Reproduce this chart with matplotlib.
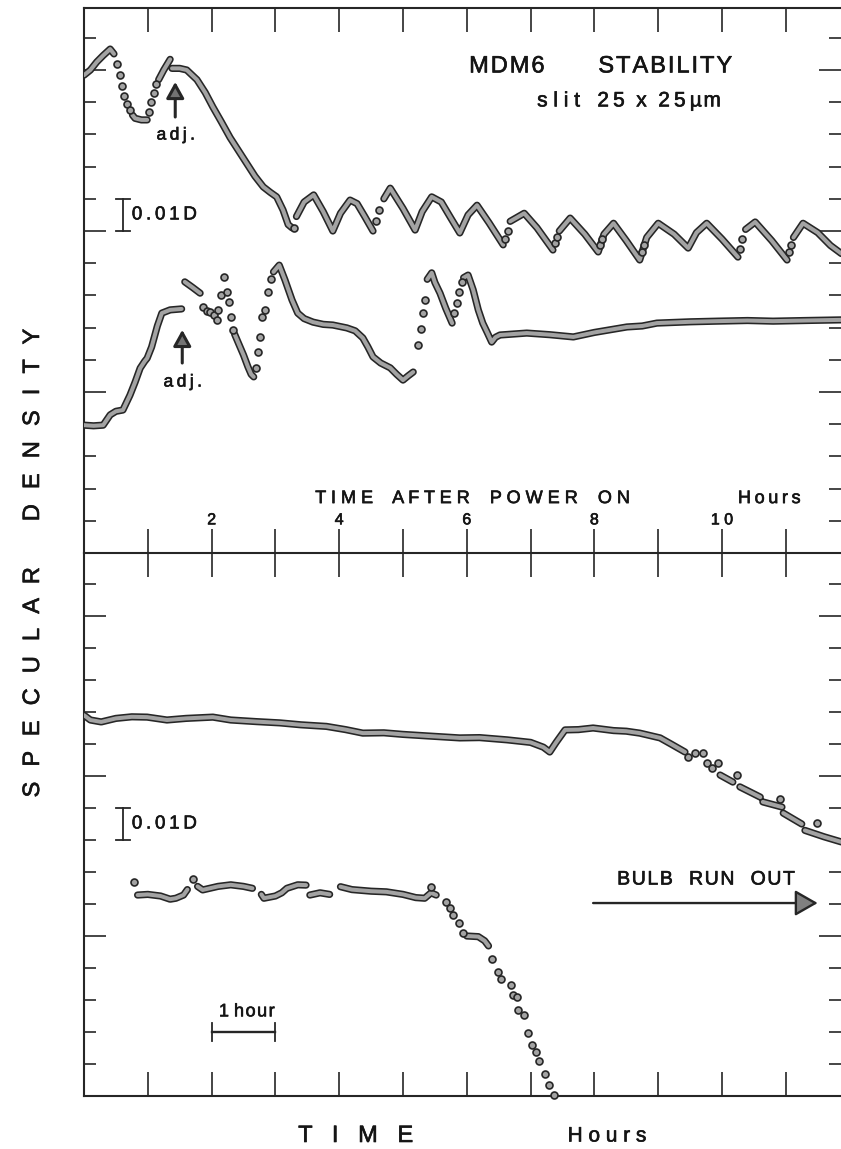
import numpy as np
import matplotlib
matplotlib.use("Agg")
import matplotlib.pyplot as plt
import matplotlib.patheffects as pe
from matplotlib.ticker import FixedLocator

nan = np.nan
FONT = ['Liberation Sans', 'DejaVu Sans']
plt.rcParams['font.family'] = FONT

# time axis (hours) and density axis (steps of 0.01 D, counted from panel bottom)
hour_ticks = list(range(1, 12))
top_labels = [2, 4, 6, 8, 10]
minor_steps = list(range(1, 17))
major_steps = [5, 10, 15]

# ---- upper panel, first run (dense trace, NaN = break)
top_hi_x = [0.0, 0.1, 0.2, 0.3, 0.41, 0.47, nan,
            0.76, 0.8, 0.9, 0.99, nan,
            1.17, 1.25, 1.35, nan,
            1.38, 1.5, 1.61, 1.77, 1.9, 2.02, 2.15, 2.29, 2.42, 2.55, 2.68, 2.81, 2.92, 3.02, 3.12, 3.2, 3.26, nan,
            3.33, 3.45, 3.6, 3.75, 3.9, 4.02, 4.17, 4.28, 4.4, 4.53, nan,
            4.7, 4.8, 5.0, 5.19, 5.3, 5.45, 5.6, 5.75, 5.89, 6.02, 6.16, 6.35, 6.57, nan,
            6.68, 6.9, 7.1, 7.35, nan,
            7.45, 7.62, 7.85, 8.06, 8.15, 8.3, 8.5, 8.71, 8.82, 9.0, 9.25, 9.47, 9.6, 9.76, 10.0, 10.25, nan,
            10.37, 10.52, 10.78, 11.02, nan,
            11.12, 11.27, 11.5, 11.7, 11.87]
top_hi_y = [14.84, 15.0, 15.25, 15.45, 15.65, 15.5, nan,
            13.6, 13.5, 13.45, 13.45, nan,
            14.7, 15.0, 15.33, nan,
            15.05, 15.05, 15.0, 14.7, 14.3, 13.85, 13.4, 12.9, 12.5, 12.1, 11.7, 11.37, 11.2, 11.06, 10.65, 10.2, 10.1, nan,
            10.45, 10.9, 11.12, 10.6, 10.0, 10.55, 10.96, 10.85, 10.45, 10.0, nan,
            11.0, 11.33, 10.7, 10.03, 10.6, 11.06, 10.9, 10.4, 9.94, 10.5, 10.8, 10.25, 9.57, nan,
            10.3, 10.55, 10.1, 9.41, nan,
            10.0, 10.4, 9.9, 9.35, 9.9, 10.24, 9.7, 9.1, 9.8, 10.24, 9.9, 9.47, 9.95, 10.24, 9.75, 9.19, nan,
            10.05, 10.28, 9.7, 9.1, nan,
            9.8, 10.24, 9.95, 9.55, 9.3]
top_hi_dots_x = [0.52, 0.56, 0.6, 0.63, 0.67, 0.72, 1.02, 1.05, 1.09, 1.13, 3.29, 4.58, 4.63,
                 6.6, 6.64, 7.38, 7.41, 8.09, 8.12, 8.74, 8.78, 10.28, 10.32, 11.05, 11.08]
top_hi_dots_y = [15.2, 14.85, 14.5, 14.2, 13.95, 13.76, 13.7, 14.0, 14.3, 14.55, 10.1, 10.3, 10.65,
                 9.75, 10.0, 9.62, 9.8, 9.55, 9.75, 9.35, 9.55, 9.45, 9.75, 9.35, 9.55]

# ---- upper panel, second run
top_lo_x = [0.0, 0.15, 0.3, 0.41, 0.5, 0.61, 0.72, 0.8, 0.88, 0.95, 0.99, 1.06, 1.15, 1.22, 1.35, 1.53, nan,
            1.58, 1.7, 1.82, nan,
            2.36, 2.42, 2.5, 2.57, 2.62, 2.66, nan,
            2.97, 3.06, 3.15, 3.26, 3.35, 3.45, 3.59, 3.75, 3.9, 4.12, 4.25, 4.37, 4.45, 4.53, 4.65, 4.8, 4.9,
            5.0, 5.08, 5.16, nan,
            5.38, 5.45, 5.5, 5.58, 5.67, 5.77, nan,
            5.95, 6.02, 6.1, 6.18, 6.25, 6.32, 6.39, 6.45, 6.52, 6.94, 7.3, 7.67, 8.0, 8.3, 8.51, 8.75, 8.98,
            9.5, 9.92, 10.4, 10.8, 11.3, 11.87]
top_lo_y = [3.97, 3.95, 3.97, 4.29, 4.4, 4.44, 4.9, 5.3, 5.74, 5.95, 6.05, 6.4, 7.05, 7.45, 7.55, 7.58, nan,
            8.42, 8.25, 8.07, nan,
            6.8, 6.52, 6.15, 5.78, 5.55, 5.47, nan,
            8.73, 8.94, 8.48, 7.86, 7.45, 7.28, 7.17, 7.1, 7.08, 6.99, 6.9, 6.68, 6.4, 6.09, 5.9, 5.75, 5.55,
            5.37, 5.5, 5.62, nan,
            8.5, 8.7, 8.4, 8.07, 7.6, 7.14, nan,
            8.55, 8.63, 8.17, 7.55, 7.14, 6.85, 6.55, 6.7, 6.77, 6.83, 6.78, 6.71, 6.85, 6.95, 7.02, 7.05, 7.14,
            7.18, 7.2, 7.22, 7.2, 7.22, 7.24]
top_lo_dots_x = [1.87, 1.93, 1.97, 2.03, 2.08, 2.1, 2.15, 2.19, 2.24, 2.28, 2.31, 2.34,
                 2.7, 2.73, 2.76, 2.79, 2.84, 2.88, 2.93, 5.24, 5.28, 5.31, 5.35, 5.8, 5.85, 5.88, 5.92]
top_lo_dots_y = [7.64, 7.52, 7.48, 7.38, 7.24, 7.55, 8.01, 8.57, 8.1, 7.8, 7.33, 6.93,
                 5.74, 6.24, 6.71, 7.33, 7.55, 8.1, 8.5, 6.46, 6.96, 7.45, 7.86, 7.45, 7.76, 8.1, 8.42]

# ---- lower panel, first run
bot_hi_x = [0.0, 0.1, 0.27, 0.5, 0.75, 0.99, 1.3, 1.6, 2.02, 2.3, 2.7, 3.07, 3.4, 3.8, 4.1, 4.37, 4.7, 5.0,
            5.4, 5.89, 6.2, 6.63, 7.0, 7.2, 7.3, 7.4, 7.54, 7.75, 7.98, 8.3, 8.5, 8.71, 9.03, 9.2, 9.42, nan,
            9.97, 10.17, nan, 10.28, 10.6, nan, 10.64, 10.94, nan, 10.96, 11.25, nan, 11.3, 11.6, 11.87]
bot_hi_y = [11.9, 11.75, 11.69, 11.8, 11.85, 11.84, 11.75, 11.8, 11.84, 11.75, 11.7, 11.66, 11.6, 11.55,
            11.45, 11.34, 11.35, 11.3, 11.25, 11.19, 11.2, 11.13, 11.05, 10.9, 10.75, 11.05, 11.44, 11.45,
            11.5, 11.42, 11.4, 11.34, 11.19, 11.0, 10.75, nan,
            10.03, 9.81, nan, 9.66, 9.34, nan, 9.19, 9.03, nan, 8.84, 8.5, nan, 8.3, 8.1, 7.94]
bot_hi_dots_x = [9.47, 9.58, 9.7, 9.76, 9.84, 9.94, 10.24, 10.91, 11.49]
bot_hi_dots_y = [10.59, 10.72, 10.72, 10.41, 10.25, 10.41, 10.03, 9.28, 8.53]

# ---- lower panel, second run (bulb run out)
bot_lo_x = [0.84, 1.0, 1.2, 1.35, 1.44, 1.56, 1.62, nan, 1.78, 1.86, 2.1, 2.3, 2.5, 2.64, nan,
            2.78, 2.82, 3.0, 3.1, 3.18, 3.35, 3.48, nan, 3.54, 3.7, 3.85, nan,
            4.02, 4.2, 4.5, 4.74, 5.0, 5.2, 5.34, 5.44, 5.52, nan, 6.0, 6.18, 6.28, 6.34]
bot_lo_y = [6.28, 6.3, 6.25, 6.15, 6.18, 6.28, 6.45, nan, 6.55, 6.44, 6.55, 6.6, 6.55, 6.49, nan,
            6.3, 6.18, 6.25, 6.35, 6.49, 6.6, 6.59, nan, 6.28, 6.35, 6.3, nan,
            6.54, 6.45, 6.4, 6.38, 6.3, 6.2, 6.18, 6.35, 6.28, nan, 5.0, 4.98, 4.85, 4.69]
bot_lo_dots_x = [0.78, 1.71, 5.44, 5.67, 5.73, 5.79, 5.88, 5.94, 6.40, 6.49, 6.54, 6.69, 6.72, 6.78,
                 6.81, 6.90, 6.96, 7.02, 7.09, 7.13, 7.23, 7.29, 7.36]
bot_lo_dots_y = [6.70, 6.77, 6.54, 6.07, 5.86, 5.66, 5.40, 5.08, 4.27, 3.89, 3.65, 3.47, 3.16, 3.10,
                 2.69, 2.53, 1.98, 1.59, 1.38, 1.10, 0.69, 0.34, 0.03]

GREY = '#a3a3a3'
DARK = '#262626'
INK = '#151515'
# Liberation Sans is lighter than the original lettering: thicken it a little
TXT = dict(color=INK, path_effects=[pe.withStroke(linewidth=0.45, foreground=INK)])


def track(s, sep):
    return sep.join(s)


def phrase(words, sep, gap):
    return gap.join(track(w, sep) for w in words)


def trace(ax, x, y):
    ax.plot(x, y, color=GREY, lw=2.9, solid_capstyle='round', solid_joinstyle='round', zorder=3,
            path_effects=[pe.Stroke(linewidth=5.2, foreground=DARK), pe.Normal()])


def dots(ax, x, y):
    ax.plot(x, y, ls='none', marker='o', ms=5.0, mfc=GREY, mec=DARK, mew=1.2, zorder=3, clip_on=False)


def up_arrow(ax, x, y0, y1):
    ax.annotate('', xy=(x, y1), xytext=(x, y0),
                arrowprops=dict(arrowstyle='-|>,head_length=0.65,head_width=0.36', lw=2.2,
                                color=DARK, fc='0.45', shrinkA=0, shrinkB=0, mutation_scale=15))


def density_bar(ax, x, y0, y1, dx=0.11):
    ax.plot([x, x], [y0, y1], color=DARK, lw=1.3)
    ax.plot([x - dx, x + dx], [y0, y0], color=DARK, lw=1.3)
    ax.plot([x - dx, x + dx], [y1, y1], color=DARK, lw=1.3)
    ax.text(x + 0.14, (y0 + y1) / 2, track('0.01D', '\u2009'), fontsize=13.5, ha='left', va='center', **TXT)


W, H = 841, 1149
fig = plt.figure(figsize=(W / 100, H / 100), dpi=100)
ax1 = fig.add_axes([84 / W, 1 - 553 / H, 1 - 84 / W, 545 / H])
ax2 = fig.add_axes([84 / W, 1 - 1096 / H, 1 - 84 / W, 543 / H])

for ax, ymax in ((ax1, 545 / 32.2), (ax2, 543 / 32.0)):
    ax.set_xlim(0, 757 / 63.8)
    ax.set_ylim(0, ymax)
    ax.patch.set_visible(False)
    ax.xaxis.set_major_locator(FixedLocator(hour_ticks))
    ax.yaxis.set_major_locator(FixedLocator(major_steps))
    ax.yaxis.set_minor_locator(FixedLocator(minor_steps))
    ax.tick_params(axis='x', which='major', direction='in', length=17, width=1.2, color=DARK,
                   top=True, bottom=True, labelbottom=False)
    ax.tick_params(axis='y', which='major', direction='in', length=16, width=1.2, color=DARK,
                   left=True, right=True, labelleft=False)
    ax.tick_params(axis='y', which='minor', direction='in', length=8.5, width=1.2, color=DARK,
                   left=True, right=True)
    ax.spines['right'].set_visible(False)
    for side in ('left', 'top', 'bottom'):
        ax.spines[side].set_linewidth(1.5)
        ax.spines[side].set_color(DARK)
ax2.spines['top'].set_visible(False)

# upper panel
trace(ax1, top_hi_x, top_hi_y)
dots(ax1, top_hi_dots_x, top_hi_dots_y)
trace(ax1, top_lo_x, top_lo_y)
dots(ax1, top_lo_dots_x, top_lo_dots_y)

ax1.text(6.63, 15.11, track('MDM6', '\u200a'), fontsize=17, ha='center', va='center', **TXT)
ax1.text(9.11, 15.11, track('STABILITY', '\u200a'), fontsize=17, ha='center', va='center', **TXT)
ax1.text(8.54, 14.04, track('slit', ' ') + '   ' + track('25', '\u2009') + '  x  ' + track('25', '\u2009')
         + '\u2009' + track('\u00b5m', '\u200a'), fontsize=15, ha='center', va='center', **TXT)
ax1.text(6.08, 1.69, phrase(['TIME', 'AFTER', 'POWER', 'ON'], ' ', '    '), fontsize=13,
         ha='center', va='center', **TXT)
ax1.text(10.74, 1.69, track('Hours', '\u2009'), fontsize=13, ha='center', va='center', **TXT)
for v in top_labels:
    ax1.text(v, 1.03, track(str(v), ' '), fontsize=11.5, ha='center', va='center', **TXT)

up_arrow(ax1, 1.43, 13.54, 14.63)
ax1.text(1.44, 12.98, track('adj.', '\u2009'), fontsize=12.5, ha='center', va='center', **TXT)
up_arrow(ax1, 1.54, 5.9, 6.93)
ax1.text(1.55, 5.31, track('adj.', '\u2009'), fontsize=12.5, ha='center', va='center', **TXT)
density_bar(ax1, 0.61, 10, 11)

# lower panel
trace(ax2, bot_hi_x, bot_hi_y)
dots(ax2, bot_hi_dots_x, bot_hi_dots_y)
trace(ax2, bot_lo_x, bot_lo_y)
dots(ax2, bot_lo_dots_x, bot_lo_dots_y)

density_bar(ax2, 0.61, 8, 9)
ax2.plot([2, 3], [2, 2], color=DARK, lw=1.7)
ax2.plot([2, 2], [1.73, 2.27], color=DARK, lw=1.3)
ax2.plot([3, 3], [1.73, 2.27], color=DARK, lw=1.3)
ax2.text(2.55, 2.63, '1 ' + track('hour', '\u200a'), fontsize=13, ha='center', va='center', **TXT)

ax2.text(9.75, 6.75, phrase(['BULB', 'RUN', 'OUT'], '\u200a', '   '), fontsize=14,
         ha='center', va='center', **TXT)
ax2.annotate('', xy=(11.5, 6.03), xytext=(7.98, 6.03),
             arrowprops=dict(arrowstyle='-|>,head_length=0.7,head_width=0.4', lw=1.7,
                             color=DARK, fc='0.5', shrinkA=0, shrinkB=0, mutation_scale=20))

# axis titles
fig.text(33 / W, 1 - 562 / H, phrase(['SPECULAR', 'DENSITY'], '  \u200a', '       '),
         rotation=90, fontsize=17, ha='center', va='center', **TXT)
fig.text(356 / W, 1 - 1136 / H, track('TIME', '   '), fontsize=17, ha='center', va='center', **TXT)
fig.text(607 / W, 1 - 1136 / H, track('Hours', ' '), fontsize=15, ha='center', va='center', **TXT)

fig.savefig('out.png', dpi=100)
